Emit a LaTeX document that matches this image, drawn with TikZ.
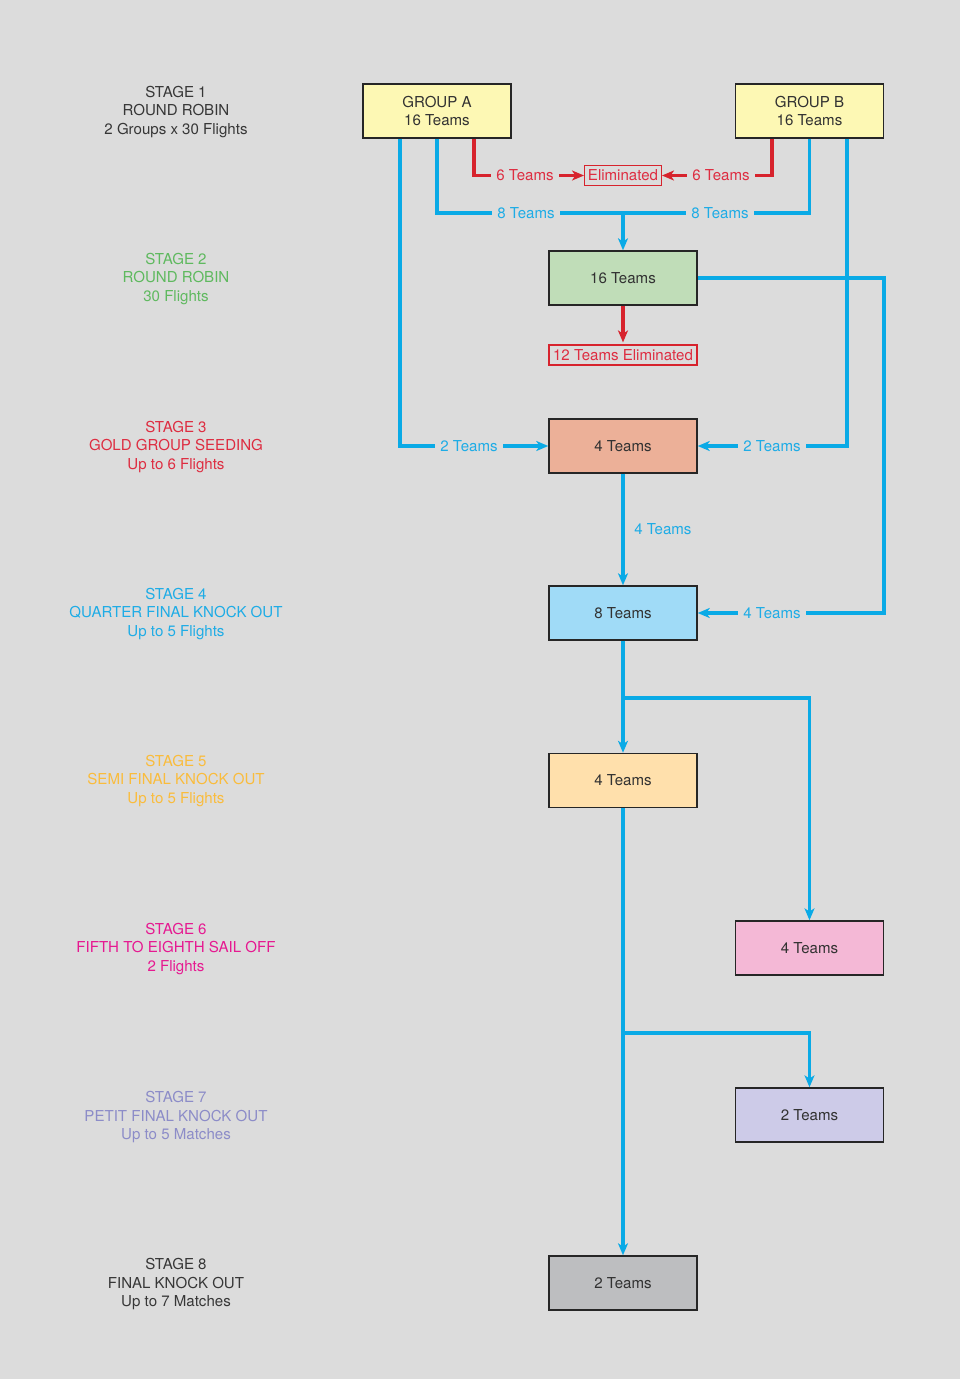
\documentclass[tikz,border=0pt]{standalone}
\usepackage{fontspec}
\setmainfont{TeX Gyre Heros}
\usetikzlibrary{arrows.meta}
\definecolor{bg}{RGB}{220,220,220}
\definecolor{bline}{RGB}{10,170,230}
\definecolor{rline}{RGB}{215,35,45}
\definecolor{boxtext}{RGB}{50,50,50}
\definecolor{cyel}{RGB}{253,248,180}
\definecolor{cgreen}{RGB}{192,221,184}
\definecolor{csalmon}{RGB}{236,176,152}
\definecolor{cblue}{RGB}{160,219,247}
\definecolor{corange}{RGB}{255,224,172}
\definecolor{cpink}{RGB}{244,184,214}
\definecolor{clav}{RGB}{205,203,232}
\definecolor{cgrey}{RGB}{189,190,192}
\definecolor{tgreen}{RGB}{95,185,95}
\definecolor{tred}{RGB}{222,45,65}
\definecolor{tblue}{RGB}{30,172,230}
\definecolor{torange}{RGB}{250,188,60}
\definecolor{tmag}{RGB}{230,25,145}
\definecolor{tlav}{RGB}{140,140,200}
\definecolor{tdark}{RGB}{55,55,55}
\begin{document}
\begin{tikzpicture}[x=0.75pt,y=-0.75pt,
  every node/.style={font=\fontsize{11.3}{14.2}\selectfont},
  box/.style={draw=black!85,line width=1.1pt,minimum width=148*0.75pt,minimum height=54*0.75pt,inner sep=0pt,align=center,text=boxtext},
  stagelbl/.style={align=center},
  bl/.style={draw=bline,line width=2.5pt},
  rl/.style={draw=rline,line width=2.5pt},
  tip/.style={-{Stealth[length=9pt,width=7.5pt,inset=2.5pt]}},
  lab/.style={fill=bg,inner xsep=4pt,inner ysep=1pt,text=tblue},
  rlab/.style={fill=bg,inner xsep=4pt,inner ysep=1pt,text=tred},
  ebox/.style={draw=rline,line width=0.9pt,fill=bg,text=tred,inner xsep=2.5pt,inner ysep=0pt,minimum height=20*0.75pt}
]
\useasboundingbox[fill=bg] (0,0) rectangle (960,1379);

% stage labels
\node[stagelbl,text=tdark] (st1) at (176,112) {STAGE 1\\ROUND ROBIN\\2 Groups x 30 Flights};
\node[stagelbl,text=tgreen] (st2) at (176,279) {STAGE 2\\ROUND ROBIN\\30 Flights};
\node[stagelbl,text=tred] (st3) at (176,447) {STAGE 3\\GOLD GROUP SEEDING\\Up to 6 Flights};
\node[stagelbl,text=tblue] (st4) at (176,614) {STAGE 4\\QUARTER FINAL KNOCK OUT\\Up to 5 Flights};
\node[stagelbl,text=torange] (st5) at (176,781) {STAGE 5\\SEMI FINAL KNOCK OUT\\Up to 5 Flights};
\node[stagelbl,text=tmag] (st6) at (176,949) {STAGE 6\\FIFTH TO EIGHTH SAIL OFF\\2 Flights};
\node[stagelbl,text=tlav] (st7) at (176,1117) {STAGE 7\\PETIT FINAL KNOCK OUT\\Up to 5 Matches};
\node[stagelbl,text=tdark] (st8) at (176,1284) {STAGE 8\\FINAL KNOCK OUT\\Up to 7 Matches};

% boxes
\node[box,fill=cyel] (gA) at (437,111) {GROUP A\\16 Teams};
\node[box,fill=cyel] (gB) at (809.5,111) {GROUP B\\16 Teams};
\node[box,fill=cgreen] (s2) at (623,278) {16 Teams};
\node[box,fill=csalmon] (s3) at (623,446) {4 Teams};
\node[box,fill=cblue] (s4) at (623,613) {8 Teams};
\node[box,fill=corange] (s5) at (623,780.5) {4 Teams};
\node[box,fill=cpink] (s6) at (809.5,948) {4 Teams};
\node[box,fill=clav] (s7) at (809.5,1115) {2 Teams};
\node[box,fill=cgrey] (s8) at (623,1283) {2 Teams};
\node[ebox] (elim) at (623,175.5) {Eliminated};
\node[ebox,minimum width=148*0.75pt] (elim12) at (623,355) {12 Teams Eliminated};

\coordinate (j1) at (623,213);

% connectors
\draw[bl,tip] (gA.south -| 400,0) |- (s3.west);
\draw[bl] (gA.south) |- (j1);
\draw[bl] (gB.south) |- (j1);
\draw[bl,tip] (j1) -- (s2.north);
\draw[rl,tip] (gA.south -| 474,0) |- (elim.west);
\draw[rl,tip] (gB.south -| 772,0) |- (elim.east);
\draw[bl,tip] (gB.south -| 847,0) |- (s3.east);
\draw[rl,tip] (s2.south) -- ([yshift=1.5pt]elim12.north);
\draw[bl,tip] (s2.east) -- (s2.east -| 884,0) |- (s4.east);
\draw[bl,tip] (s3.south) -- (s4.north);
\draw[bl,tip] (s4.south) -- (s5.north);
\draw[bl,tip] (s4.south |- 0,698) -| (s6.north);
\draw[bl,tip] (s5.south) -- (s8.north);
\draw[bl,tip] (s5.south |- 0,1033) -| (s7.north);

% connector labels
\node[rlab] (l6a) at (525,175.5) {6 Teams};
\node[rlab] (l6b) at (721,175.5) {6 Teams};
\node[lab] (l8a) at (526,213.5) {8 Teams};
\node[lab] (l8b) at (720,213.5) {8 Teams};
\node[lab] (l2a) at (469,446.5) {2 Teams};
\node[lab] (l2b) at (772,446.5) {2 Teams};
\node[lab,fill=none,anchor=west,inner xsep=0pt] (l4a) at (634,529.5) {4 Teams};
\node[lab] (l4b) at (772,613.5) {4 Teams};
\end{tikzpicture}
\end{document}
